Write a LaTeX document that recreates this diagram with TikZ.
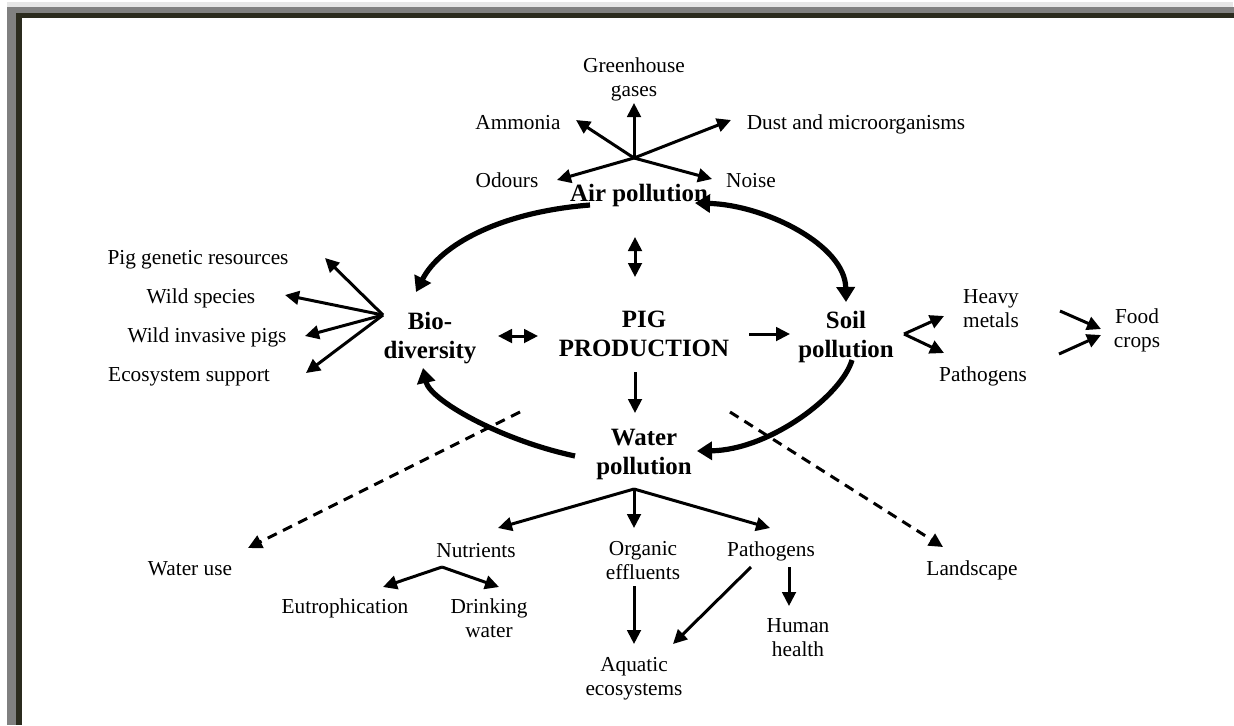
\documentclass[tikz,border=0pt]{standalone}
\usepackage{fontspec}
\setmainfont{Liberation Serif}
\usetikzlibrary{arrows.meta}
\definecolor{framelight}{RGB}{230,230,230}
\definecolor{framegray}{RGB}{128,128,128}
\definecolor{framedark}{RGB}{43,43,30}

\begin{document}
\begin{tikzpicture}[x=0.5pt,y=-0.5pt,
  lbtip/.tip={Triangle[length=7pt,width=6.8pt]},
  cyctip/.tip={Triangle[length=7.5pt,width=9pt]},
  lbl/.style={font=\fontsize{10.65}{12}\selectfont,inner sep=0pt,align=center},
  hd/.style={font=\fontsize{12.45}{14.5}\selectfont\bfseries,inner sep=0pt,align=center},
  arr/.style={line width=1.5pt,-lbtip},
  darr/.style={line width=1.5pt,lbtip-lbtip},
  dsh/.style={arr,dash pattern=on 5pt off 3.5pt},
  big/.style={line width=2.6pt}]
  \useasboundingbox (0,0) rectangle (1234,725);

  %frame
  \fill[white] (0,0) rectangle (1234,725);
  \fill[framelight] (7,2) rectangle (1233,7);
  \fill[framegray] (7,7) rectangle (16,725);
  \fill[framegray] (7,7) rectangle (1234,13);
  \fill[framedark] (16,13) rectangle (22,725);
  \fill[framedark] (16,13) rectangle (1234,18);

  %main nodes
  \node[hd,anchor=base] (air) at (639,201) {Air pollution};
  \node[hd] (bio) at (430,338) {Bio-\\diversity};
  \node[hd] (pig) at (644,334) {PIG\\PRODUCTION};
  \node[hd] (soil) at (846,337) {Soil\\pollution};
  \node[hd] (water) at (644,454) {Water\\pollution};

  %air pollution
  \node[lbl] (greenhouse) at (634,79) {Greenhouse\\gases};
  \node[lbl,anchor=base] (ammonia) at (518,129) {Ammonia};
  \node[lbl,anchor=base] (dust) at (856,129) {Dust and microorganisms};
  \node[lbl,anchor=base] (odours) at (507,187) {Odours};
  \node[lbl,anchor=base] (noise) at (751,187) {Noise};
  \coordinate (airhub) at (634,158);
  \draw[arr] (airhub) -- ([shift={(0,24)}]greenhouse.center);
  \draw[arr] (airhub) -- ([shift={(58,-9)}]ammonia.base);
  \draw[arr] (airhub) -- ([shift={(-125,-9)}]dust.base);
  \draw[arr] (airhub) -- ([shift={(50,-7)}]odours.base);
  \draw[arr] (airhub) -- ([shift={(-39,-8)}]noise.base);

  %biodiversity
  \node[lbl,anchor=base] (pigres) at (198,264) {Pig genetic resources};
  \node[lbl,anchor=base] (wildsp) at (201,303) {Wild species};
  \node[lbl,anchor=base] (wildinv) at (207,342) {Wild invasive pigs};
  \node[lbl,anchor=base] (ecosys) at (189,381) {Ecosystem support};
  \coordinate (biohub) at (383,315);
  \draw[arr] (biohub) -- ([shift={(127,-6)}]pigres.base);
  \draw[arr] (biohub) -- ([shift={(84,-8)}]wildsp.base);
  \draw[arr] (biohub) -- ([shift={(98,-6)}]wildinv.base);
  \draw[arr] (biohub) -- ([shift={(117,-8)}]ecosys.base);

  %soil pollution
  \node[lbl] (heavy) at (991,309) {Heavy\\metals};
  \node[lbl,anchor=base] (soilpath) at (983,381) {Pathogens};
  \node[lbl] (food) at (1137,330) {Food\\crops};
  \coordinate (soilhub) at (904,334);
  \draw[arr] (soilhub) -- ([shift={(-47,7)}]heavy.center);
  \draw[arr] (soilhub) -- ([shift={(-39,-28)}]soilpath.base);
  \draw[arr] ([shift={(69,2)}]heavy.center) -- ([shift={(-36,-1)}]food.center);
  \draw[arr] ([shift={(76,-27)}]soilpath.base) -- ([shift={(-36,5)}]food.center);

  %water pollution
  \node[lbl,anchor=base] (nutrients) at (476,557) {Nutrients};
  \node[lbl] (organic) at (643,561) {Organic\\effluents};
  \node[lbl,anchor=base] (waterpath) at (771,556) {Pathogens};
  \node[lbl,anchor=base] (eutro) at (345,613) {Eutrophication};
  \node[lbl] (drinking) at (489,618) {Drinking\\water};
  \node[lbl] (human) at (798,638) {Human\\health};
  \node[lbl] (aquatic) at (634,679) {Aquatic\\ecosystems};
  \coordinate (waterhub) at (634,489);
  \coordinate (nutrhub) at (442,567);
  \draw[arr] (waterhub) -- ([shift={(22,-29)}]nutrients.base);
  \draw[arr] (waterhub) -- ([shift={(-9,-33)}]organic.center);
  \draw[arr] (waterhub) -- ([shift={(-1,-28)}]waterpath.base);
  \draw[arr] (nutrhub) -- ([shift={(38,-26)}]eutro.base);
  \draw[arr] (nutrhub) -- ([shift={(10,-31)}]drinking.center);
  \draw[arr] ([shift={(-9,25)}]organic.center) -- ([shift={(0,-35)}]aquatic.center);
  \draw[arr] ([shift={(-20,11)}]waterpath.base) -- ([shift={(39,-35)}]aquatic.center);
  \draw[arr] ([shift={(18,11)}]waterpath.base) -- ([shift={(-9,-32)}]human.center);

  %water use and landscape
  \node[lbl,anchor=base] (wateruse) at (190,575) {Water use};
  \node[lbl,anchor=base] (landscape) at (972,575) {Landscape};
  \draw[dsh] ([shift={(-124,78)}]pig.center) -- ([shift={(58,-27)}]wateruse.base);
  \draw[dsh] ([shift={(86,78)}]pig.center) -- ([shift={(-29,-28)}]landscape.base);

  %around pig production
  \draw[darr] ([shift={(-4,36)}]air.base) -- ([shift={(-9,-57)}]pig.center);
  \draw[darr] ([shift={(68,-2)}]bio.center) -- ([shift={(-106,2)}]pig.center);
  \draw[arr] ([shift={(105,0)}]pig.center) -- ([shift={(-56,-3)}]soil.center);
  \draw[arr] ([shift={(-9,38)}]pig.center) -- ([shift={(-9,-41)}]water.center);

  %cycle
  \draw[big,-cyctip] ([shift={(-49,4)}]air.base) .. controls (500,212) and (440,245) .. ([shift={(-14,-46)}]bio.center);
  \draw[big,cyctip-cyctip] ([shift={(56,2)}]air.base) .. controls (765,205) and (845,245) .. ([shift={(0,-35)}]soil.center);
  \draw[big,-cyctip] ([shift={(6,23)}]soil.center) .. controls (842,395) and (770,450) .. ([shift={(53,-3)}]water.center);
  \draw[big,-cyctip] ([shift={(-69,2)}]water.center) .. controls (500,440) and (430,400) .. ([shift={(-7,30)}]bio.center);
\end{tikzpicture}
\end{document}
